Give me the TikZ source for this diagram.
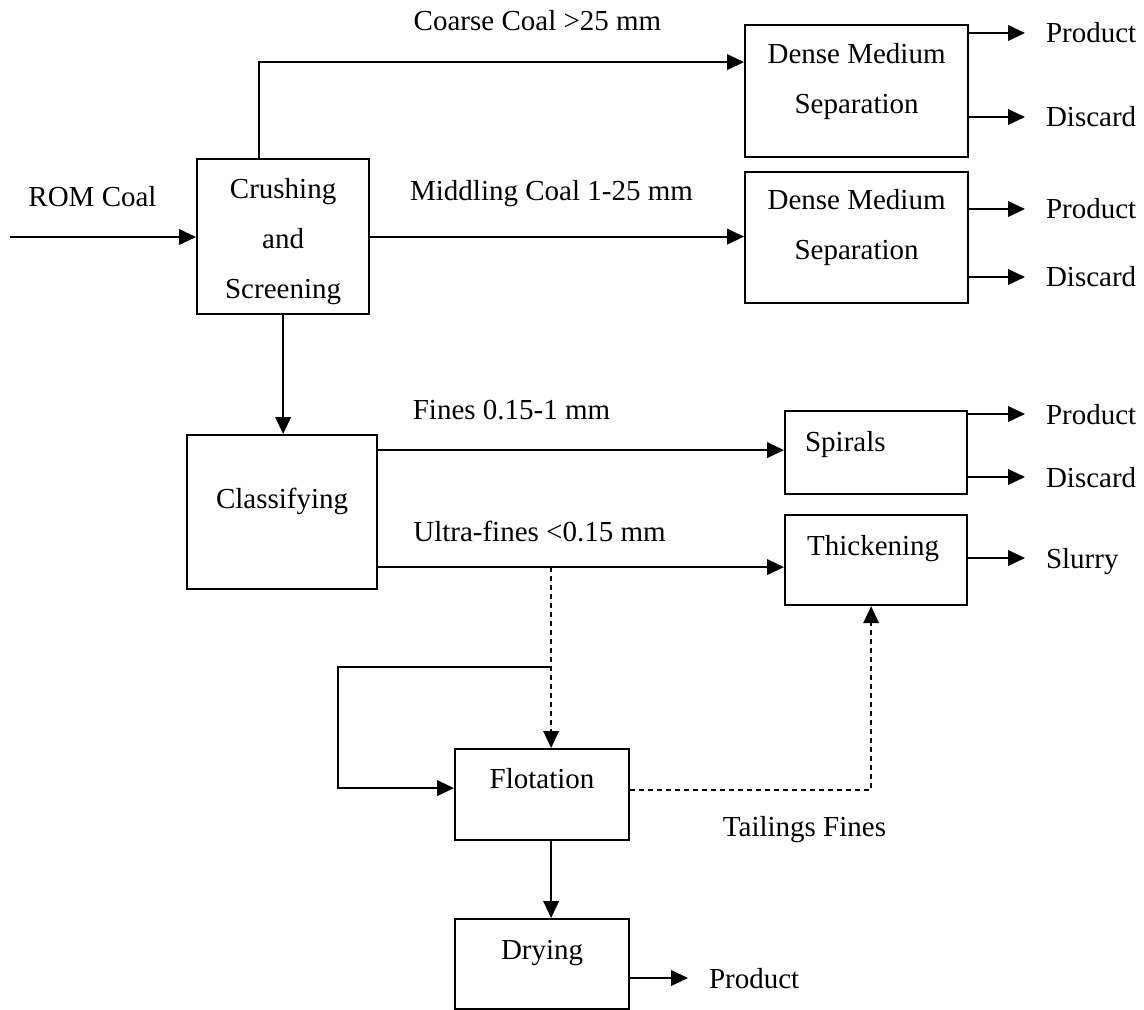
\documentclass[tikz,border=0pt]{standalone}
\usepackage{fontspec}
\setmainfont{Liberation Serif}
\usepackage{tikz}
\usetikzlibrary{arrows.meta}

\tikzset{
  stage/.style={rectangle, draw=black, line width=1.1pt, inner sep=0pt, align=flush center, anchor=north west},
  flow/.style={line width=1pt, -{Triangle[length=8.5pt,width=7.8pt]}},
  tail/.style={flow, line width=0.7pt, dash pattern=on 2.5pt off 2pt},
  lbl/.style={anchor=base, inner sep=0pt},
  outlbl/.style={anchor=west, inner sep=0pt, outer xsep=10.5pt, text height=10pt, text depth=0pt}
}

\begin{document}
\begin{tikzpicture}[x=0.5pt, y=-0.5pt, font=\fontsize{14.5}{25}\selectfont]
\useasboundingbox (0,0) rectangle (1144,1010);

\node[stage, text width=86pt, text height=19.5pt, text depth=58pt] (crush) at (196,158) {Crushing\\and\\Screening};
\node[stage, text width=111.5pt, text height=19pt, text depth=47pt] (dms1) at (744,24) {Dense Medium\\Separation};
\node[stage, text width=111.5pt, text height=18.5pt, text depth=47pt] (dms2) at (744,171) {Dense Medium\\Separation};
\node[stage, text width=95pt, text height=36.5pt, text depth=40.5pt] (class) at (186,434) {Classifying};
\node[stage, align=flush left, inner xsep=10pt, text width=71pt, text height=20pt, text depth=21.5pt] (spir) at (784,410) {Spirals};
\node[stage, align=flush left, inner xsep=11pt, text width=69pt, text height=20pt, text depth=25pt] (thick) at (784,514) {Thickening};
\node[stage, text width=87pt, text height=19.5pt, text depth=26pt] (flot) at (454,748) {Flotation};
\node[stage, text width=87pt, text height=20pt, text depth=25pt] (dry) at (454,918) {Drying};

\node[lbl] (romtxt) at (92.5,207) {ROM Coal};
\node[lbl] (coarsetxt) at (537.5,31) {Coarse Coal >25 mm};
\node[lbl] (midtxt) at (551.5,201) {Middling Coal 1-25 mm};
\node[lbl] (finestxt) at (511.5,419) {Fines 0.15-1 mm};
\node[lbl] (ultratxt) at (539.5,541) {Ultra-fines <0.15 mm};
\node[lbl] (tailtxt) at (804.5,836) {Tailings Fines};

\node[outlbl] (prod1) at (1025,33) {Product};
\node[outlbl] (disc1) at (1025,117) {Discard};
\node[outlbl] (prod2) at (1025,209) {Product};
\node[outlbl] (disc2) at (1025,277) {Discard};
\node[outlbl] (prod3) at (1025,414) {Product};
\node[outlbl] (disc3) at (1025,477) {Discard};
\node[outlbl] (slurry) at (1025,558) {Slurry};
\node[outlbl] (prod4) at (688,978) {Product};

\coordinate (rom) at (10,237);
\draw[flow] (rom) -- (rom -| crush.west);
\draw[flow] ([xshift=-12pt]crush.north) |- ([yshift=14.5pt]dms1.west);
\draw[flow] (crush.east) -- (crush.east -| dms2.west);
\draw[flow] (crush.south) -- (crush.south |- class.north);
\draw[flow] ([yshift=31pt]class.east) -- ([yshift=31pt]class.east -| spir.west);
\draw[flow] ([yshift=-27.5pt]class.east) coordinate (ultra) -- (ultra -| thick.west);

\coordinate (flotin) at ([xshift=4.5pt]flot.north);
\coordinate (split) at (flotin |- ultra);
\coordinate (loop) at (338,667);
\draw[tail] (split) -- (flotin);
\draw[flow] (split |- loop) -- (loop) |- ([yshift=3.25pt]flot.west);
\draw[tail] ([yshift=2.25pt]flot.east) -| ([xshift=-2.5pt]thick.south);
\draw[flow] (flotin |- flot.south) -- (flotin |- dry.north);

\foreach \src/\dst in {dms1/prod1, dms1/disc1, dms2/prod2, dms2/disc2, spir/prod3, spir/disc3, thick/slurry, dry/prod4}
  \draw[flow] (\src.east |- \dst) -- (\dst);
\end{tikzpicture}
\end{document}
